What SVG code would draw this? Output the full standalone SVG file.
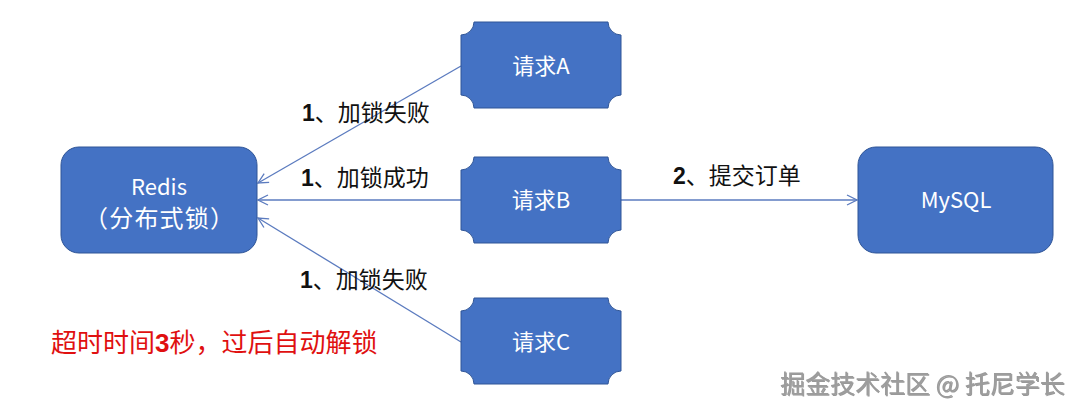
<svg xmlns="http://www.w3.org/2000/svg" width="1080" height="413" viewBox="0 0 1080 413">
<style>
.node{fill:#4472c4;stroke:#2f5597;stroke-width:1}
.ntxt{fill:#ffffff;font-family:"Noto Sans CJK SC","Noto Sans",sans-serif;font-size:22px;text-anchor:middle}
.conn{stroke:#5b7bbf;stroke-width:1.3;fill:none;marker-end:url(#arr)}
.lbl{fill:#111111;font-family:"Noto Sans CJK SC",sans-serif;font-size:23px}
.num{font-family:"Liberation Sans",sans-serif;font-weight:bold}
.red{fill:#e01010;font-family:"Noto Sans CJK SC",sans-serif;font-size:26px}
.wm{fill:#9c9c9c;font-family:"Noto Sans CJK SC",sans-serif;font-size:25px;filter:url(#emb)}
</style>
<defs>
<marker id="arr" viewBox="0 0 12 12" refX="11" refY="6" markerWidth="12" markerHeight="12" markerUnits="userSpaceOnUse" orient="auto">
<path d="M1,1 L11,6 L1,11" fill="none" stroke="#5b7bbf" stroke-width="1.3"/>
</marker>
<filter id="emb" x="-5%" y="-20%" width="110%" height="140%">
<feDropShadow dx="1" dy="1" stdDeviation="0.3" flood-color="#555555" flood-opacity="0.6"/>
</filter>
</defs>
<rect width="1080" height="413" fill="#ffffff"/>
<g id="connectors">
<line class="conn" x1="461" y1="66" x2="258" y2="183"/>
<line class="conn" x1="461" y1="200" x2="258" y2="200"/>
<line class="conn" x1="461" y1="342" x2="258" y2="218"/>
<line class="conn" x1="621" y1="200" x2="857" y2="200"/>
</g>
<g id="redis">
<rect class="node" x="61" y="147" width="196" height="106" rx="18"/>
<text class="ntxt" x="159" y="195">Redis</text>
<text class="ntxt" x="159" y="227" style="font-size:24px" textLength="150" lengthAdjust="spacing">（分布式锁）</text>
</g>
<g id="mysql">
<rect class="node" x="858" y="147" width="195" height="106" rx="18"/>
<text class="ntxt" x="956" y="208">MySQL</text>
</g>
<g id="reqA">
<path class="node" d="M474,22 H608 A13,13 0 0 0 621,35 V95 A13,13 0 0 0 608,108 H474 A13,13 0 0 0 461,95 V35 A13,13 0 0 0 474,22 Z"/>
<text class="ntxt" x="541" y="74">请求A</text>
</g>
<g id="reqB">
<path class="node" d="M474,157 H608 A13,13 0 0 0 621,170 V230 A13,13 0 0 0 608,243 H474 A13,13 0 0 0 461,230 V170 A13,13 0 0 0 474,157 Z"/>
<text class="ntxt" x="541" y="208">请求B</text>
</g>
<g id="reqC">
<path class="node" d="M474,298 H608 A13,13 0 0 0 621,311 V371 A13,13 0 0 0 608,384 H474 A13,13 0 0 0 461,371 V311 A13,13 0 0 0 474,298 Z"/>
<text class="ntxt" x="541" y="350">请求C</text>
</g>
<g id="labels">
<text class="lbl" x="302" y="121"><tspan class="num">1</tspan>、加锁失败</text>
<text class="lbl" x="301" y="186"><tspan class="num">1</tspan>、加锁成功</text>
<text class="lbl" x="300" y="288"><tspan class="num">1</tspan>、加锁失败</text>
<text class="lbl" x="673" y="184"><tspan class="num">2</tspan>、提交订单</text>
</g>
<text class="red" x="51" y="352">超时时间<tspan class="num">3</tspan>秒，过后自动解锁</text>
<text class="wm" x="780" y="393">掘金技术社区 @ 托尼学长</text>
</svg>
